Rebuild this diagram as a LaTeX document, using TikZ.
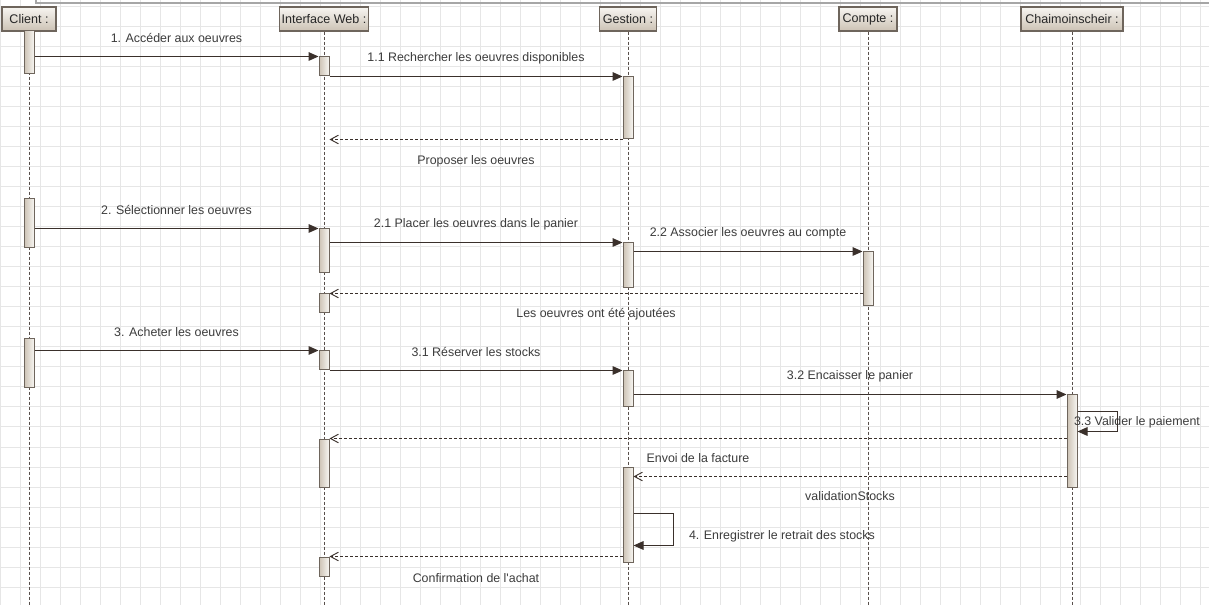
\documentclass[tikz,border=0pt]{standalone}
\usepackage{fontspec}
\setmainfont{Liberation Sans}
\usetikzlibrary{arrows.meta}
\definecolor{inkline}{HTML}{3A302B}
\definecolor{txtgray}{HTML}{3C3C3C}
\definecolor{gridgray}{HTML}{E6E6E6}
\definecolor{boxedge}{HTML}{6E655C}
\definecolor{boxtan}{HTML}{CCC2B4}
\definecolor{boxlight}{HTML}{F7F5F1}
\tikzset{
  head/.style={draw=boxedge, line width=0.9pt, top color=boxlight, bottom color=boxtan,
    minimum height=18pt, inner sep=0pt, text=black!85, font=\fontsize{9.4}{11}\selectfont},
  bar/.style={draw=boxedge, line width=0.75pt, left color=boxtan, right color=boxlight,
    minimum width=7.5pt, inner sep=0pt},
  life/.style={draw=inkline!85, line width=0.6pt, dash pattern=on 2.25pt off 1.5pt},
  msg/.style={draw=inkline, line width=0.75pt, -{Triangle[length=7.5pt,width=6.5pt]}},
  ret/.style={draw=inkline, line width=0.7pt, dash pattern=on 2.25pt off 1.5pt,
    -{Straight Barb[length=6pt,width=6.5pt]}},
  txt/.style={text=txtgray, font=\fontsize{9.3}{11}\selectfont, inner sep=0pt},
  gridline/.style={draw=gridgray, line width=0.75pt},
}
\begin{document}
\begin{tikzpicture}[x=0.75pt, y=-0.75pt]
\useasboundingbox[fill=white] (0,0) rectangle (1209,605);
% background grid
\foreach \gx in {0,20,...,1200}
  \draw[gridline] (\gx,0) -- (\gx,605);
\foreach \gy in {7,27,...,587}
  \draw[gridline] (0,\gy) -- (1209,\gy);
\draw[draw=black!35, line width=1.2pt] (36,0) -- (36,3) -- (1209,3);
% lifeline heads
\node[head, minimum width=40.5pt] (client) at (29,19) {Client :};
\node[head, minimum width=66.75pt] (web) at (324,19) {Interface Web :};
\node[head, minimum width=42.75pt] (gestion) at (628,19) {Gestion :};
\node[head, minimum width=43.5pt] (compte) at (868,19) {Compte :};
\node[head, minimum width=76.5pt] (caisse) at (1072,19) {Chaimoinscheir :};
\coordinate (bottom) at (0,605);
\draw[life] (client) -- (client |- bottom);
\draw[life] (web) -- (web |- bottom);
\draw[life] (gestion) -- (gestion |- bottom);
\draw[life] (compte) -- (compte |- bottom);
\draw[life] (caisse) -- (caisse |- bottom);
% activation bars
\node[bar, minimum height=32.25pt] (cb1) at (29,52.5) {};
\node[bar, minimum height=36.75pt] (cb2) at (29,223.5) {};
\node[bar, minimum height=36.75pt] (cb3) at (29,363.5) {};
\node[bar, minimum height=14.25pt] (ib1) at (324,66.5) {};
\node[bar, minimum height=33pt] (ib2) at (324,251) {};
\node[bar, minimum height=14.25pt] (ib3) at (324,303.5) {};
\node[bar, minimum height=14.25pt] (ib4) at (324,360.5) {};
\node[bar, minimum height=36pt] (ib5) at (324,463) {};
\node[bar, minimum height=14.25pt] (ib6) at (324,566.5) {};
\node[bar, minimum height=46.5pt] (gb1) at (628,108) {};
\node[bar, minimum height=33.75pt] (gb2) at (628,265.5) {};
\node[bar, minimum height=27pt] (gb3) at (628,389) {};
\node[bar, minimum height=71.25pt] (gb4) at (628,514.5) {};
\node[bar, minimum height=40.5pt] (kb) at (868,279) {};
\node[bar, minimum height=69pt] (hb) at (1072,441) {};
% messages
\draw[msg] (cb1.east |- ib1.north) -- node[txt, midway, yshift=14pt] (m1) {1. Accéder aux oeuvres} (ib1.north west);
\draw[msg] (ib1.east |- gb1.north) -- node[txt, midway, yshift=14pt] (m11) {1.1 Rechercher les oeuvres disponibles} (gb1.north west);
\draw[ret] (gb1.south west) -- node[txt, midway, yshift=-16.5pt] (r11) {Proposer les oeuvres} (gb1.south west -| ib1.east);
\draw[msg] (cb2.east |- ib2.north) -- node[txt, midway, yshift=14pt] (m2) {2. Sélectionner les oeuvres} (ib2.north west);
\draw[msg] (ib2.east |- gb2.north) -- node[txt, midway, yshift=14pt] (m21) {2.1 Placer les oeuvres dans le panier} (gb2.north west);
\draw[msg] (gb2.east |- kb.north) -- node[txt, midway, yshift=14pt] (m22) {2.2 Associer les oeuvres au compte} (kb.north west);
\draw[ret] (kb.west |- ib3.north) -- node[txt, midway, yshift=-15.5pt] (r22) {Les oeuvres ont été ajoutées} (ib3.north east);
\draw[msg] (cb3.east |- ib4.north) -- node[txt, midway, yshift=14pt] (m3) {3. Acheter les oeuvres} (ib4.north west);
\draw[msg] (ib4.east |- gb3.north) -- node[txt, midway, yshift=14pt] (m31) {3.1 Réserver les stocks} (gb3.north west);
\draw[msg] (gb3.east |- hb.north) -- node[txt, midway, yshift=14pt] (m32) {3.2 Encaisser le panier} (hb.north west);
\draw[msg] (hb.north east) ++(0,17) -- ++(40,0) -- ++(0,20)
  node[txt, midway, anchor=west, xshift=-33pt, yshift=-0.75pt] (m33) {3.3 Valider le paiement} -- ++(-40,0);
\draw[ret] (hb.west |- ib5.north) -- node[txt, midway, yshift=-15pt] (r32) {Envoi de la facture} (ib5.north east);
\draw[ret] (hb.south west) ++(0,-11) coordinate (vs) -- node[txt, midway, yshift=-14.5pt] (r31) {validationStocks} (vs -| gb4.east);
\draw[msg] (gb4.north east) ++(0,47) -- ++(40,0) -- ++(0,32)
  node[txt, midway, anchor=west, xshift=11.25pt, yshift=-5pt] (m4) {4. Enregistrer le retrait des stocks} -- ++(-40,0);
\draw[ret] (gb4.west |- ib6.north) -- node[txt, midway, yshift=-16pt] (r4) {Confirmation de l\textquotesingle achat} (ib6.north east);
\end{tikzpicture}
\end{document}
